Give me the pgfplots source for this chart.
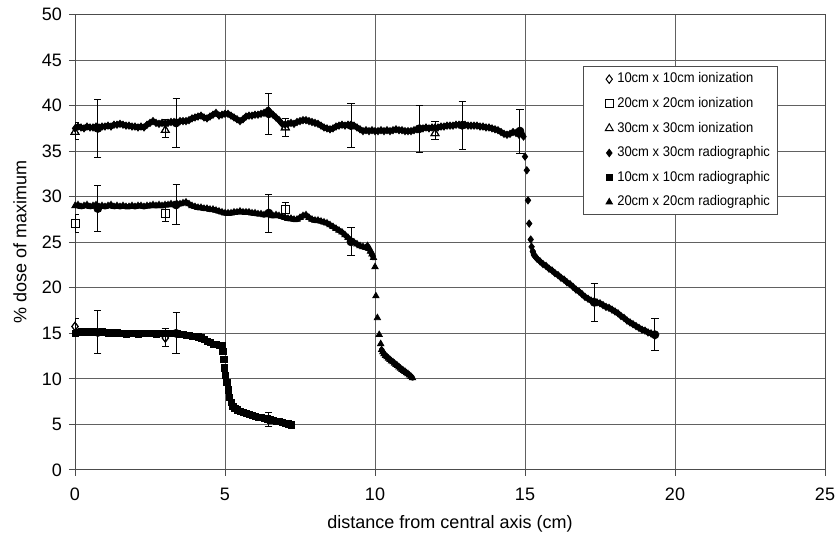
\documentclass[border=0pt]{standalone}
\usepackage{fontspec}
\setmainfont{Liberation Sans}
\usepackage{graphicx}
\usepackage{pgfplots}
\usepackage{pgfplotstable}
\pgfplotsset{compat=1.18}
\newcommand{\LE}[1]{\makebox[67pt][l]{\scalebox{0.93}[1]{#1}}}

\pgfplotstableread{
x y
0.0 15.0
0.1 15.1
0.2 15.2
0.3 15.1
0.4 15.2
0.5 15.1
0.6 15.2
0.7 15.1
0.8 15.1
0.9 15.2
1.0 15.1
1.1 15.0
1.2 15.1
1.3 15.0
1.4 15.1
1.5 15.0
1.6 15.0
1.7 14.9
1.8 15.0
1.9 15.0
2.0 15.0
2.1 14.9
2.2 15.0
2.3 15.0
2.4 15.0
2.5 15.0
2.6 15.0
2.7 14.9
2.8 15.0
2.9 15.0
3.0 15.0
3.1 15.0
3.2 15.0
3.3 15.0
3.4 15.0
3.5 14.9
3.6 14.9
3.7 14.8
3.8 14.8
3.9 14.7
4.0 14.65
4.1 14.6
4.2 14.5
4.3 14.3
4.4 14.1
4.5 14.0
4.6 13.8
4.7 13.8
4.8 13.7
4.9 13.7
4.93 13.0
4.96 12.1
4.99 11.2
5.02 10.4
5.06 9.6
5.1 8.8
5.14 8.0
5.2 7.4
5.26 7.0
5.33 6.8
5.4 6.6
5.5 6.45
5.6 6.3
5.7 6.2
5.8 6.1
5.9 6.0
6.0 5.9
6.1 5.8
6.2 5.75
6.3 5.65
6.4 5.6
6.5 5.5
6.6 5.45
6.7 5.35
6.8 5.3
6.9 5.2
7.0 5.15
7.1 5.05
7.2 4.95
}\radten

\pgfplotstableread{
x y
0.0 29.0
0.1 29.1
0.2 28.9
0.3 29.0
0.4 29.1
0.5 28.9
0.6 29.0
0.7 29.1
0.8 28.9
0.9 29.0
1.0 28.9
1.1 29.0
1.2 29.1
1.3 28.9
1.4 29.0
1.5 28.9
1.6 29.0
1.7 28.9
1.8 28.9
1.9 29.0
2.0 28.9
2.1 29.0
2.2 29.0
2.3 28.9
2.4 29.0
2.5 29.0
2.6 29.1
2.7 29.0
2.8 29.1
2.9 29.0
3.0 29.1
3.1 29.1
3.2 29.2
3.3 29.1
3.4 29.2
3.5 29.2
3.6 29.3
3.7 29.4
3.8 29.2
3.9 29.0
4.0 28.9
4.1 28.8
4.2 28.8
4.3 28.7
4.4 28.7
4.5 28.6
4.6 28.6
4.7 28.5
4.8 28.4
4.9 28.3
5.0 28.2
5.1 28.2
5.2 28.2
5.3 28.3
5.4 28.3
5.5 28.4
5.6 28.3
5.7 28.3
5.8 28.3
5.9 28.2
6.0 28.2
6.1 28.1
6.2 28.1
6.3 28.0
6.4 28.1
6.5 28.0
6.6 27.9
6.7 28.0
6.8 27.9
6.9 27.8
7.0 27.7
7.1 27.6
7.2 27.6
7.3 27.5
7.4 27.5
7.5 27.7
7.6 27.9
7.7 28.0
7.8 27.7
7.9 27.5
8.0 27.4
8.1 27.4
8.2 27.3
8.3 27.2
8.4 27.1
8.5 26.9
8.6 26.7
8.7 26.5
8.8 26.3
8.9 26.1
9.0 25.8
9.1 25.5
9.2 25.2
9.3 25.0
9.4 24.8
9.5 24.6
9.6 24.5
9.7 24.4
9.75 24.6
9.8 24.3
9.85 24.0
9.9 23.7
9.95 23.3
10.0 22.3
10.03 19.1
10.08 16.7
10.14 14.85
10.19 13.85
10.22 13.2
10.26 12.95
10.3 12.75
10.35 12.55
10.4 12.4
10.45 12.25
10.5 12.1
10.55 11.95
10.6 11.85
10.65 11.7
10.7 11.55
10.75 11.45
10.8 11.3
10.85 11.15
10.9 11.0
10.95 10.9
11.0 10.8
11.05 10.65
11.1 10.55
11.15 10.4
11.2 10.25
11.25 10.1
}\radtwenty

\pgfplotstableread{
x y
0.0 37.5
0.1 37.7
0.2 37.6
0.3 37.5
0.4 37.7
0.5 37.6
0.6 37.6
0.7 37.7
0.8 37.6
0.9 37.7
1.0 37.7
1.1 37.8
1.2 37.7
1.3 37.9
1.4 37.9
1.5 38.0
1.6 37.9
1.7 37.8
1.8 37.8
1.9 37.7
2.0 37.7
2.1 37.6
2.2 37.7
2.3 37.6
2.4 37.9
2.5 38.1
2.6 38.3
2.7 38.1
2.8 38.0
2.9 38.1
3.0 38.0
3.1 38.1
3.2 38.2
3.3 38.2
3.4 38.1
3.5 38.3
3.6 38.3
3.7 38.3
3.8 38.4
3.9 38.6
4.0 38.7
4.1 38.8
4.2 38.9
4.3 38.7
4.4 38.6
4.5 38.8
4.6 39.0
4.7 39.2
4.8 38.9
4.9 39.0
5.0 39.1
5.1 39.1
5.2 38.9
5.3 38.7
5.4 38.5
5.5 38.3
5.6 38.5
5.7 38.8
5.8 38.9
5.9 38.9
6.0 39.0
6.1 39.0
6.2 39.1
6.3 39.2
6.4 39.4
6.45 39.5
6.5 39.3
6.6 39.0
6.7 38.7
6.8 38.4
6.9 38.0
7.0 37.9
7.1 38.0
7.2 38.1
7.3 38.0
7.4 38.2
7.5 38.3
7.6 38.4
7.7 38.4
7.8 38.3
7.9 38.2
8.0 38.1
8.1 38.0
8.2 37.8
8.3 37.6
8.4 37.5
8.5 37.4
8.6 37.5
8.7 37.7
8.8 37.8
8.9 37.9
9.0 37.8
9.1 37.9
9.2 37.9
9.3 37.8
9.4 37.6
9.5 37.4
9.6 37.2
9.7 37.3
9.8 37.2
9.9 37.3
10.0 37.2
10.1 37.2
10.2 37.3
10.3 37.2
10.4 37.3
10.5 37.2
10.6 37.3
10.7 37.4
10.8 37.3
10.9 37.3
11.0 37.2
11.1 37.2
11.2 37.2
11.3 37.3
11.4 37.4
11.5 37.5
11.6 37.5
11.7 37.6
11.8 37.5
11.9 37.6
12.0 37.6
12.1 37.6
12.2 37.7
12.3 37.7
12.4 37.8
12.5 37.8
12.6 37.8
12.7 37.9
12.8 37.9
12.9 37.8
13.0 37.9
13.1 37.8
13.2 37.8
13.3 37.8
13.4 37.8
13.5 37.7
13.6 37.7
13.7 37.6
13.8 37.6
13.9 37.5
14.0 37.4
14.1 37.3
14.2 37.1
14.3 36.9
14.4 36.8
14.5 36.9
14.6 37.1
14.7 37.0
14.8 36.8
14.9 36.9
14.95 36.6
15.0 34.4
15.06 32.9
15.1 29.6
15.14 27.05
15.19 25.3
15.22 24.5
15.26 24.0
15.3 23.6
15.35 23.4
15.4 23.2
15.5 22.9
15.6 22.6
15.7 22.4
15.8 22.1
15.9 21.9
16.0 21.6
16.1 21.4
16.2 21.1
16.3 20.9
16.4 20.6
16.5 20.4
16.6 20.1
16.7 19.8
16.8 19.6
16.9 19.3
17.0 19.0
17.1 18.8
17.2 18.6
17.3 18.5
17.4 18.4
17.5 18.3
17.6 18.1
17.7 17.9
17.8 17.8
17.9 17.6
18.0 17.4
18.1 17.2
18.2 16.9
18.3 16.7
18.4 16.4
18.5 16.2
18.6 16.0
18.7 15.8
18.8 15.6
18.9 15.4
19.0 15.3
19.1 15.1
19.2 15.0
19.3 14.85
19.35 14.8
}\radthirty

% error bars on radiographic series: x y plus minus
\pgfplotstableread{
x y ep em
0.76 15.1 2.4 2.35
3.37 15.0 2.3 2.25
6.46 5.55 0.75 0.75
}\errten
\pgfplotstableread{
x y ep em
0.76 28.7 2.5 2.5
3.37 29.1 2.2 2.2
6.46 28.2 2.1 2.1
9.2 25.05 1.55 1.55
}\errtwenty
\pgfplotstableread{
x y ep em
0.76 37.5 3.2 3.2
3.37 38.1 2.7 2.7
6.46 39.1 2.25 2.25
9.2 37.8 2.4 2.4
11.47 37.45 2.55 2.55
12.91 37.85 2.65 2.65
14.83 37.2 2.4 2.4
17.31 18.4 2.1 2.1
19.33 14.85 1.75 1.75
}\errthirty

% ionization chamber points
\pgfplotstableread{
x y ep em
0 15.75 0.92 0.95
3.01 14.5 1.0 0.95
}\ionten
\pgfplotstableread{
x y ep em
0 27.1 0.95 1.0
3.01 28.2 0.9 0.9
7.01 28.6 0.8 0.8
}\iontwenty
\pgfplotstableread{
x y ep em
0 37.1 1.0 0.8
3.01 37.3 1.2 0.75
7.01 37.6 1.0 1.0
12.0 36.95 1.35 0.65
}\ionthirty

\begin{document}
\begin{tikzpicture}
\useasboundingbox (-37.5pt,-32.5pt) rectangle (380pt,235pt);
\begin{axis}[
  at={(0,0)}, anchor=south west,
  scale only axis, width=375pt, height=227.75pt,
  xmin=0, xmax=25, ymin=0, ymax=50,
  xtick={0,5,...,25}, ytick={0,5,...,50},
  xtick pos=bottom, ytick pos=left,
  grid=major, major grid style={black!62, line width=0.5pt},
  axis line style={black!70, line width=0.5pt},
  tick align=outside, major tick length=3pt,
  tick style={black!70, line width=0.5pt},
  tick label style={font=\fontsize{9}{10}\selectfont},
  xticklabel style={yshift=-2.5pt},
  /pgf/number format/assume math mode=true,
  xlabel={distance from central axis (cm)},
  ylabel={\% dose of maximum},
  label style={font=\fontsize{9}{10}\selectfont},
  xlabel style={at={(axis description cs:0.5,-0.118)}, anchor=center},
  ylabel style={at={(axis description cs:-0.0733,0.5)}, anchor=center},
  legend style={at={(rel axis cs:0.677,0.887)}, anchor=north west,
    font=\fontsize{7}{8}\selectfont, draw=black!70, line width=0.5pt,
    inner xsep=11pt, inner ysep=1pt, row sep=1.6pt,
    cells={inner xsep=1pt, inner ysep=1pt, text height=5.2pt, text depth=1.5pt}},
  legend cell align=left,
  ionerr/.style={error bars/.cd, y dir=both, y explicit,
    error bar style={black, line width=0.45pt},
    error mark options={rotate=90, mark size=1.8pt, black, line width=0.45pt}},
  band/.style={black, line width=2.7pt, forget plot, line join=round, line cap=round},
]
% legend-carrying ionization series
\addplot[only marks, mark=diamond, mark size=2.1pt, black, mark options={fill=white, line width=0.5pt}, ionerr]
  table[x=x, y=y, y error plus=ep, y error minus=em] {\ionten};
\addlegendentry{\LE{10cm x 10cm ionization}}
\addplot[only marks, mark=square, mark size=2pt, black, mark options={fill=white, line width=0.5pt}, ionerr]
  table[x=x, y=y, y error plus=ep, y error minus=em] {\iontwenty};
\addlegendentry{\LE{20cm x 20cm ionization}}
\addplot[only marks, mark=triangle, mark size=2.3pt, black, mark options={fill=white, line width=0.5pt}, ionerr]
  table[x=x, y=y, y error plus=ep, y error minus=em] {\ionthirty};
\addlegendentry{\LE{30cm x 30cm ionization}}
% radiographic series
\addplot[only marks, mark=diamond*, mark size=1.8pt, black] table[x=x, y=y] {\radthirty};
\addlegendentry{\LE{30cm x 30cm radiographic}}
\addplot[only marks, mark=square*, mark size=1.55pt, black] table[x=x, y=y] {\radten};
\addlegendentry{\LE{10cm x 10cm radiographic}}
\addplot[only marks, mark=triangle*, mark size=1.8pt, black] table[x=x, y=y] {\radtwenty};
\addlegendentry{\LE{20cm x 20cm radiographic}}
% continuous parts of the radiographic bands
\addplot[band, restrict x to domain=0:4.91] table[x=x, y=y] {\radten};
\addplot[band, restrict x to domain=5.18:7.3] table[x=x, y=y] {\radten};
\addplot[band, restrict x to domain=0:9.96] table[x=x, y=y] {\radtwenty};
\addplot[band, restrict x to domain=10.21:11.3] table[x=x, y=y] {\radtwenty};
\addplot[band, restrict x to domain=0:14.96] table[x=x, y=y] {\radthirty};
\addplot[band, restrict x to domain=15.24:19.4] table[x=x, y=y] {\radthirty};
% error bars of radiographic series
\addplot[only marks, mark=none, black, forget plot, ionerr] table[x=x, y=y, y error plus=ep, y error minus=em] {\errten};
\addplot[only marks, mark=none, black, forget plot, ionerr] table[x=x, y=y, y error plus=ep, y error minus=em] {\errtwenty};
\addplot[only marks, mark=none, black, forget plot, ionerr] table[x=x, y=y, y error plus=ep, y error minus=em] {\errthirty};
% ionization markers redrawn on top
\addplot[only marks, mark=diamond, mark size=2.1pt, black, mark options={fill=white, line width=0.5pt}, forget plot] table[x=x, y=y] {\ionten};
\addplot[only marks, mark=square, mark size=2pt, black, mark options={fill=white, line width=0.5pt}, forget plot] table[x=x, y=y] {\iontwenty};
\addplot[only marks, mark=triangle, mark size=2.3pt, black, mark options={fill=white, line width=0.5pt}, forget plot] table[x=x, y=y] {\ionthirty};
\end{axis}
\end{tikzpicture}
\end{document}
